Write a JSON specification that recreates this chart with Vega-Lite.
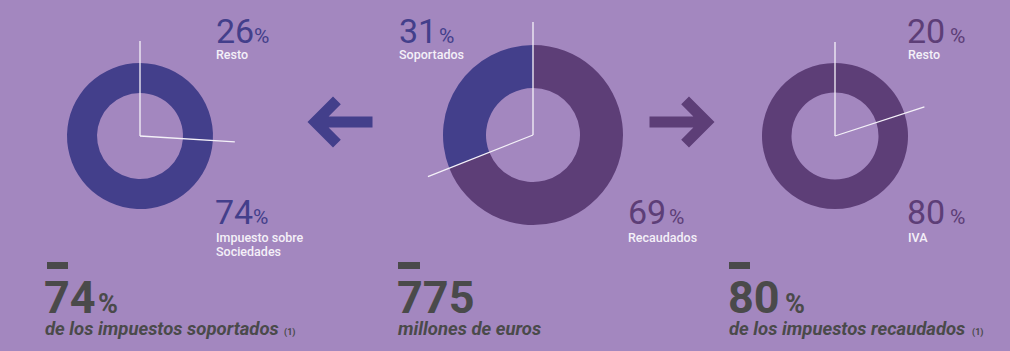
{
  "$schema": "https://vega.github.io/schema/vega-lite/v6.json",
  "width": 1010,
  "height": 351,
  "autosize": {"type": "fit", "contains": "padding"},
  "padding": 0,
  "background": "#a387bf",
  "config": {
    "view": {"stroke": null},
    "axis": {"disable": true},
    "legend": {"disable": true},
    "text": {"font": "Roboto", "align": "left", "baseline": "alphabetic"}
  },
  "datasets": {
    "donuts": [
      {"grafico": "soportados", "concepto": "Resto", "valor": 26, "orden": 1, "tipo": "soportados"},
      {"grafico": "soportados", "concepto": "Impuesto sobre Sociedades", "valor": 74, "orden": 2, "tipo": "soportados"},
      {"grafico": "total", "concepto": "Recaudados", "valor": 69, "orden": 1, "tipo": "recaudados"},
      {"grafico": "total", "concepto": "Soportados", "valor": 31, "orden": 2, "tipo": "soportados"},
      {"grafico": "recaudados", "concepto": "Resto", "valor": 20, "orden": 1, "tipo": "recaudados"},
      {"grafico": "recaudados", "concepto": "IVA", "valor": 80, "orden": 2, "tipo": "recaudados"}
    ],
    "resumen": [
      {"grafico": "soportados", "cifra": "74", "unidad": "%", "texto": "de los impuestos soportados", "nota": "(1)"},
      {"grafico": "total", "cifra": "775", "unidad": "", "texto": "millones de euros", "nota": ""},
      {"grafico": "recaudados", "cifra": "80", "unidad": "%", "texto": "de los impuestos recaudados", "nota": "(1)"}
    ],
    "flujos": [
      {"desde": "total", "hacia": "soportados"},
      {"desde": "total", "hacia": "recaudados"}
    ]
  },
  "layer": [
    {
      "data": {"name": "donuts"},
      "transform": [{"filter": "datum.grafico == 'soportados'"}],
      "mark": {"type": "arc", "outerRadius": 73, "innerRadius": 43},
      "encoding": {
        "x": {"datum": 140, "type": "quantitative", "scale": {"domain": [0, 1010], "nice": false, "zero": false}},
        "y": {"datum": 136, "type": "quantitative", "scale": {"domain": [0, 351], "nice": false, "zero": false, "reverse": true}},
        "theta": {"field": "valor", "type": "quantitative", "stack": true, "scale": {"domain": [0, 100]}},
        "order": {"field": "orden"},
        "color": {"field": "tipo", "type": "nominal", "scale": {"domain": ["soportados", "recaudados"], "range": ["#433f8b", "#5d3e77"]}}
      }
    },
    {
      "data": {"name": "donuts"},
      "transform": [{"filter": "datum.grafico == 'total'"}],
      "mark": {"type": "arc", "outerRadius": 90, "innerRadius": 47},
      "encoding": {
        "x": {"datum": 533, "type": "quantitative"},
        "y": {"datum": 135, "type": "quantitative"},
        "theta": {"field": "valor", "type": "quantitative", "stack": true},
        "order": {"field": "orden"},
        "color": {"field": "tipo", "type": "nominal"}
      }
    },
    {
      "data": {"name": "donuts"},
      "transform": [{"filter": "datum.grafico == 'recaudados'"}],
      "mark": {"type": "arc", "outerRadius": 73, "innerRadius": 43.5},
      "encoding": {
        "x": {"datum": 835, "type": "quantitative"},
        "y": {"datum": 136, "type": "quantitative"},
        "theta": {"field": "valor", "type": "quantitative", "stack": true},
        "order": {"field": "orden"},
        "color": {"field": "tipo", "type": "nominal"}
      }
    },
    {
      "data": {"name": "donuts"},
      "transform": [
        {"filter": "datum.grafico == 'soportados'"},
        {"stack": "valor", "groupby": ["grafico"], "sort": [{"field": "orden"}], "as": ["inicio", "fin"]}
      ],
      "mark": {"type": "arc", "outerRadius": 95, "innerRadius": 0, "filled": false, "stroke": "#f4f1f8", "strokeWidth": 1.3},
      "encoding": {
        "x": {"datum": 140, "type": "quantitative"},
        "y": {"datum": 136, "type": "quantitative"},
        "theta": {"field": "inicio", "type": "quantitative"},
        "theta2": {"field": "inicio"}
      }
    },
    {
      "data": {"name": "donuts"},
      "transform": [
        {"filter": "datum.grafico == 'total'"},
        {"stack": "valor", "groupby": ["grafico"], "sort": [{"field": "orden"}], "as": ["inicio", "fin"]}
      ],
      "mark": {"type": "arc", "outerRadius": 113, "innerRadius": 0, "filled": false, "stroke": "#f4f1f8", "strokeWidth": 1.3},
      "encoding": {
        "x": {"datum": 533, "type": "quantitative"},
        "y": {"datum": 135, "type": "quantitative"},
        "theta": {"field": "inicio", "type": "quantitative"},
        "theta2": {"field": "inicio"}
      }
    },
    {
      "data": {"name": "donuts"},
      "transform": [
        {"filter": "datum.grafico == 'recaudados'"},
        {"stack": "valor", "groupby": ["grafico"], "sort": [{"field": "orden"}], "as": ["inicio", "fin"]}
      ],
      "mark": {"type": "arc", "outerRadius": 94, "innerRadius": 0, "filled": false, "stroke": "#f4f1f8", "strokeWidth": 1.3},
      "encoding": {
        "x": {"datum": 835, "type": "quantitative"},
        "y": {"datum": 136, "type": "quantitative"},
        "theta": {"field": "inicio", "type": "quantitative"},
        "theta2": {"field": "inicio"}
      }
    },
    {
      "data": {"name": "flujos"},
      "transform": [{"filter": "datum.hacia == 'soportados'"}],
      "mark": {"type": "point", "filled": true, "opacity": 1, "size": 4225, "shape": "M-1,0L-0.215,-0.785L0.025,-0.545L-0.35,-0.17L1,-0.17L1,0.17L-0.35,0.17L0.025,0.545L-0.215,0.785Z"},
      "encoding": {
        "x": {"datum": 340, "type": "quantitative"},
        "y": {"datum": 122, "type": "quantitative"},
        "color": {"field": "hacia", "type": "nominal"}
      }
    },
    {
      "data": {"name": "flujos"},
      "transform": [{"filter": "datum.hacia == 'recaudados'"}],
      "mark": {"type": "point", "filled": true, "opacity": 1, "size": 4225, "shape": "M1,0L0.215,-0.785L-0.025,-0.545L0.35,-0.17L-1,-0.17L-1,0.17L0.35,0.17L-0.025,0.545L0.215,0.785Z"},
      "encoding": {
        "x": {"datum": 682, "type": "quantitative"},
        "y": {"datum": 122, "type": "quantitative"},
        "color": {"field": "hacia", "type": "nominal"}
      }
    },

    {
      "data": {"name": "donuts"},
      "transform": [{"filter": "datum.grafico == 'soportados' && datum.orden == 1"}],
      "mark": {"type": "text", "font": "Liberation Sans Narrow, Roboto", "fontSize": 34},
      "encoding": {"x": {"datum": 216, "type": "quantitative"}, "y": {"datum": 43, "type": "quantitative"}, "text": {"field": "valor"}, "color": {"field": "tipo", "type": "nominal"}}
    },
    {
      "data": {"name": "donuts"},
      "transform": [{"filter": "datum.grafico == 'soportados' && datum.orden == 1"}],
      "mark": {"type": "text", "fontSize": 21},
      "encoding": {"x": {"datum": 254, "type": "quantitative"}, "y": {"datum": 43, "type": "quantitative"}, "text": {"value": "%"}, "color": {"field": "tipo", "type": "nominal"}}
    },
    {
      "data": {"name": "donuts"},
      "transform": [{"filter": "datum.grafico == 'soportados' && datum.orden == 1"}],
      "mark": {"type": "text", "fontSize": 12.5, "fontWeight": 500, "color": "#f4f0f8"},
      "encoding": {"x": {"datum": 216, "type": "quantitative"}, "y": {"datum": 58.5, "type": "quantitative"}, "text": {"field": "concepto"}}
    },
    {
      "data": {"name": "donuts"},
      "transform": [{"filter": "datum.grafico == 'soportados' && datum.orden == 2"}],
      "mark": {"type": "text", "font": "Liberation Sans Narrow, Roboto", "fontSize": 34},
      "encoding": {"x": {"datum": 215, "type": "quantitative"}, "y": {"datum": 223.5, "type": "quantitative"}, "text": {"field": "valor"}, "color": {"field": "tipo", "type": "nominal"}}
    },
    {
      "data": {"name": "donuts"},
      "transform": [{"filter": "datum.grafico == 'soportados' && datum.orden == 2"}],
      "mark": {"type": "text", "fontSize": 21},
      "encoding": {"x": {"datum": 253, "type": "quantitative"}, "y": {"datum": 223.5, "type": "quantitative"}, "text": {"value": "%"}, "color": {"field": "tipo", "type": "nominal"}}
    },
    {
      "data": {"name": "donuts"},
      "transform": [
        {"filter": "datum.grafico == 'soportados' && datum.orden == 2"},
        {"calculate": "replace(datum.concepto, 'sobre ', 'sobre\\n')", "as": "etiqueta"}
      ],
      "mark": {"type": "text", "fontSize": 12.5, "fontWeight": 500, "color": "#f4f0f8", "lineBreak": "\n", "lineHeight": 14},
      "encoding": {"x": {"datum": 216, "type": "quantitative"}, "y": {"datum": 242, "type": "quantitative"}, "text": {"field": "etiqueta"}}
    },

    {
      "data": {"name": "donuts"},
      "transform": [{"filter": "datum.grafico == 'total' && datum.orden == 2"}],
      "mark": {"type": "text", "font": "Liberation Sans Narrow, Roboto", "fontSize": 34},
      "encoding": {"x": {"datum": 399, "type": "quantitative"}, "y": {"datum": 43, "type": "quantitative"}, "text": {"field": "valor"}, "color": {"field": "tipo", "type": "nominal"}}
    },
    {
      "data": {"name": "donuts"},
      "transform": [{"filter": "datum.grafico == 'total' && datum.orden == 2"}],
      "mark": {"type": "text", "fontSize": 21},
      "encoding": {"x": {"datum": 439, "type": "quantitative"}, "y": {"datum": 43, "type": "quantitative"}, "text": {"value": "%"}, "color": {"field": "tipo", "type": "nominal"}}
    },
    {
      "data": {"name": "donuts"},
      "transform": [{"filter": "datum.grafico == 'total' && datum.orden == 2"}],
      "mark": {"type": "text", "fontSize": 12.5, "fontWeight": 500, "color": "#f4f0f8"},
      "encoding": {"x": {"datum": 399, "type": "quantitative"}, "y": {"datum": 58.5, "type": "quantitative"}, "text": {"field": "concepto"}}
    },
    {
      "data": {"name": "donuts"},
      "transform": [{"filter": "datum.grafico == 'total' && datum.orden == 1"}],
      "mark": {"type": "text", "font": "Liberation Sans Narrow, Roboto", "fontSize": 34},
      "encoding": {"x": {"datum": 628, "type": "quantitative"}, "y": {"datum": 223.5, "type": "quantitative"}, "text": {"field": "valor"}, "color": {"field": "tipo", "type": "nominal"}}
    },
    {
      "data": {"name": "donuts"},
      "transform": [{"filter": "datum.grafico == 'total' && datum.orden == 1"}],
      "mark": {"type": "text", "fontSize": 21},
      "encoding": {"x": {"datum": 669, "type": "quantitative"}, "y": {"datum": 223.5, "type": "quantitative"}, "text": {"value": "%"}, "color": {"field": "tipo", "type": "nominal"}}
    },
    {
      "data": {"name": "donuts"},
      "transform": [{"filter": "datum.grafico == 'total' && datum.orden == 1"}],
      "mark": {"type": "text", "fontSize": 12.5, "fontWeight": 500, "color": "#f4f0f8"},
      "encoding": {"x": {"datum": 628, "type": "quantitative"}, "y": {"datum": 242, "type": "quantitative"}, "text": {"field": "concepto"}}
    },

    {
      "data": {"name": "donuts"},
      "transform": [{"filter": "datum.grafico == 'recaudados' && datum.orden == 1"}],
      "mark": {"type": "text", "font": "Liberation Sans Narrow, Roboto", "fontSize": 34},
      "encoding": {"x": {"datum": 907, "type": "quantitative"}, "y": {"datum": 43, "type": "quantitative"}, "text": {"field": "valor"}, "color": {"field": "tipo", "type": "nominal"}}
    },
    {
      "data": {"name": "donuts"},
      "transform": [{"filter": "datum.grafico == 'recaudados' && datum.orden == 1"}],
      "mark": {"type": "text", "fontSize": 21},
      "encoding": {"x": {"datum": 950, "type": "quantitative"}, "y": {"datum": 43, "type": "quantitative"}, "text": {"value": "%"}, "color": {"field": "tipo", "type": "nominal"}}
    },
    {
      "data": {"name": "donuts"},
      "transform": [{"filter": "datum.grafico == 'recaudados' && datum.orden == 1"}],
      "mark": {"type": "text", "fontSize": 12.5, "fontWeight": 500, "color": "#f4f0f8"},
      "encoding": {"x": {"datum": 908, "type": "quantitative"}, "y": {"datum": 58.5, "type": "quantitative"}, "text": {"field": "concepto"}}
    },
    {
      "data": {"name": "donuts"},
      "transform": [{"filter": "datum.grafico == 'recaudados' && datum.orden == 2"}],
      "mark": {"type": "text", "font": "Liberation Sans Narrow, Roboto", "fontSize": 34},
      "encoding": {"x": {"datum": 907, "type": "quantitative"}, "y": {"datum": 223.5, "type": "quantitative"}, "text": {"field": "valor"}, "color": {"field": "tipo", "type": "nominal"}}
    },
    {
      "data": {"name": "donuts"},
      "transform": [{"filter": "datum.grafico == 'recaudados' && datum.orden == 2"}],
      "mark": {"type": "text", "fontSize": 21},
      "encoding": {"x": {"datum": 950, "type": "quantitative"}, "y": {"datum": 223.5, "type": "quantitative"}, "text": {"value": "%"}, "color": {"field": "tipo", "type": "nominal"}}
    },
    {
      "data": {"name": "donuts"},
      "transform": [{"filter": "datum.grafico == 'recaudados' && datum.orden == 2"}],
      "mark": {"type": "text", "fontSize": 12.5, "fontWeight": 500, "color": "#f4f0f8"},
      "encoding": {"x": {"datum": 908, "type": "quantitative"}, "y": {"datum": 242, "type": "quantitative"}, "text": {"field": "concepto"}}
    },

    {
      "data": {"name": "resumen"},
      "transform": [{"filter": "datum.grafico == 'soportados'"}],
      "mark": {"type": "rect", "color": "#4a4a4a"},
      "encoding": {"x": {"datum": 47, "type": "quantitative"}, "x2": {"datum": 68}, "y": {"datum": 262, "type": "quantitative"}, "y2": {"datum": 269}}
    },
    {
      "data": {"name": "resumen"},
      "transform": [{"filter": "datum.grafico == 'total'"}],
      "mark": {"type": "rect", "color": "#4a4a4a"},
      "encoding": {"x": {"datum": 398, "type": "quantitative"}, "x2": {"datum": 420}, "y": {"datum": 262, "type": "quantitative"}, "y2": {"datum": 269}}
    },
    {
      "data": {"name": "resumen"},
      "transform": [{"filter": "datum.grafico == 'recaudados'"}],
      "mark": {"type": "rect", "color": "#4a4a4a"},
      "encoding": {"x": {"datum": 729, "type": "quantitative"}, "x2": {"datum": 750}, "y": {"datum": 262, "type": "quantitative"}, "y2": {"datum": 269}}
    },
    {
      "data": {"name": "resumen"},
      "transform": [{"filter": "datum.grafico == 'soportados'"}],
      "mark": {"type": "text", "fontSize": 45, "fontWeight": "bold", "color": "#4a4a4a"},
      "encoding": {"x": {"datum": 44, "type": "quantitative"}, "y": {"datum": 313, "type": "quantitative"}, "text": {"field": "cifra"}}
    },
    {
      "data": {"name": "resumen"},
      "transform": [{"filter": "datum.grafico == 'soportados'"}],
      "mark": {"type": "text", "fontSize": 27, "fontWeight": "bold", "color": "#4a4a4a"},
      "encoding": {"x": {"datum": 98, "type": "quantitative"}, "y": {"datum": 313, "type": "quantitative"}, "text": {"field": "unidad"}}
    },
    {
      "data": {"name": "resumen"},
      "transform": [{"filter": "datum.grafico == 'soportados'"}],
      "mark": {"type": "text", "fontSize": 18.5, "fontWeight": "bold", "fontStyle": "italic", "color": "#4a4a4a"},
      "encoding": {"x": {"datum": 45, "type": "quantitative"}, "y": {"datum": 335, "type": "quantitative"}, "text": {"field": "texto"}}
    },
    {
      "data": {"name": "resumen"},
      "transform": [{"filter": "datum.grafico == 'soportados'"}],
      "mark": {"type": "text", "fontSize": 9, "fontWeight": "bold", "color": "#4a4a4a"},
      "encoding": {"x": {"datum": 284, "type": "quantitative"}, "y": {"datum": 335, "type": "quantitative"}, "text": {"field": "nota"}}
    },
    {
      "data": {"name": "resumen"},
      "transform": [{"filter": "datum.grafico == 'total'"}],
      "mark": {"type": "text", "fontSize": 45, "fontWeight": "bold", "color": "#4a4a4a"},
      "encoding": {"x": {"datum": 397, "type": "quantitative"}, "y": {"datum": 313, "type": "quantitative"}, "text": {"field": "cifra"}}
    },
    {
      "data": {"name": "resumen"},
      "transform": [{"filter": "datum.grafico == 'total'"}],
      "mark": {"type": "text", "fontSize": 18.5, "fontWeight": "bold", "fontStyle": "italic", "color": "#4a4a4a"},
      "encoding": {"x": {"datum": 398, "type": "quantitative"}, "y": {"datum": 335, "type": "quantitative"}, "text": {"field": "texto"}}
    },
    {
      "data": {"name": "resumen"},
      "transform": [{"filter": "datum.grafico == 'recaudados'"}],
      "mark": {"type": "text", "fontSize": 45, "fontWeight": "bold", "color": "#4a4a4a"},
      "encoding": {"x": {"datum": 728, "type": "quantitative"}, "y": {"datum": 313, "type": "quantitative"}, "text": {"field": "cifra"}}
    },
    {
      "data": {"name": "resumen"},
      "transform": [{"filter": "datum.grafico == 'recaudados'"}],
      "mark": {"type": "text", "fontSize": 27, "fontWeight": "bold", "color": "#4a4a4a"},
      "encoding": {"x": {"datum": 785, "type": "quantitative"}, "y": {"datum": 313, "type": "quantitative"}, "text": {"field": "unidad"}}
    },
    {
      "data": {"name": "resumen"},
      "transform": [{"filter": "datum.grafico == 'recaudados'"}],
      "mark": {"type": "text", "fontSize": 18.5, "fontWeight": "bold", "fontStyle": "italic", "color": "#4a4a4a"},
      "encoding": {"x": {"datum": 729, "type": "quantitative"}, "y": {"datum": 335, "type": "quantitative"}, "text": {"field": "texto"}}
    },
    {
      "data": {"name": "resumen"},
      "transform": [{"filter": "datum.grafico == 'recaudados'"}],
      "mark": {"type": "text", "fontSize": 9, "fontWeight": "bold", "color": "#4a4a4a"},
      "encoding": {"x": {"datum": 972, "type": "quantitative"}, "y": {"datum": 335, "type": "quantitative"}, "text": {"field": "nota"}}
    }
  ]
}
